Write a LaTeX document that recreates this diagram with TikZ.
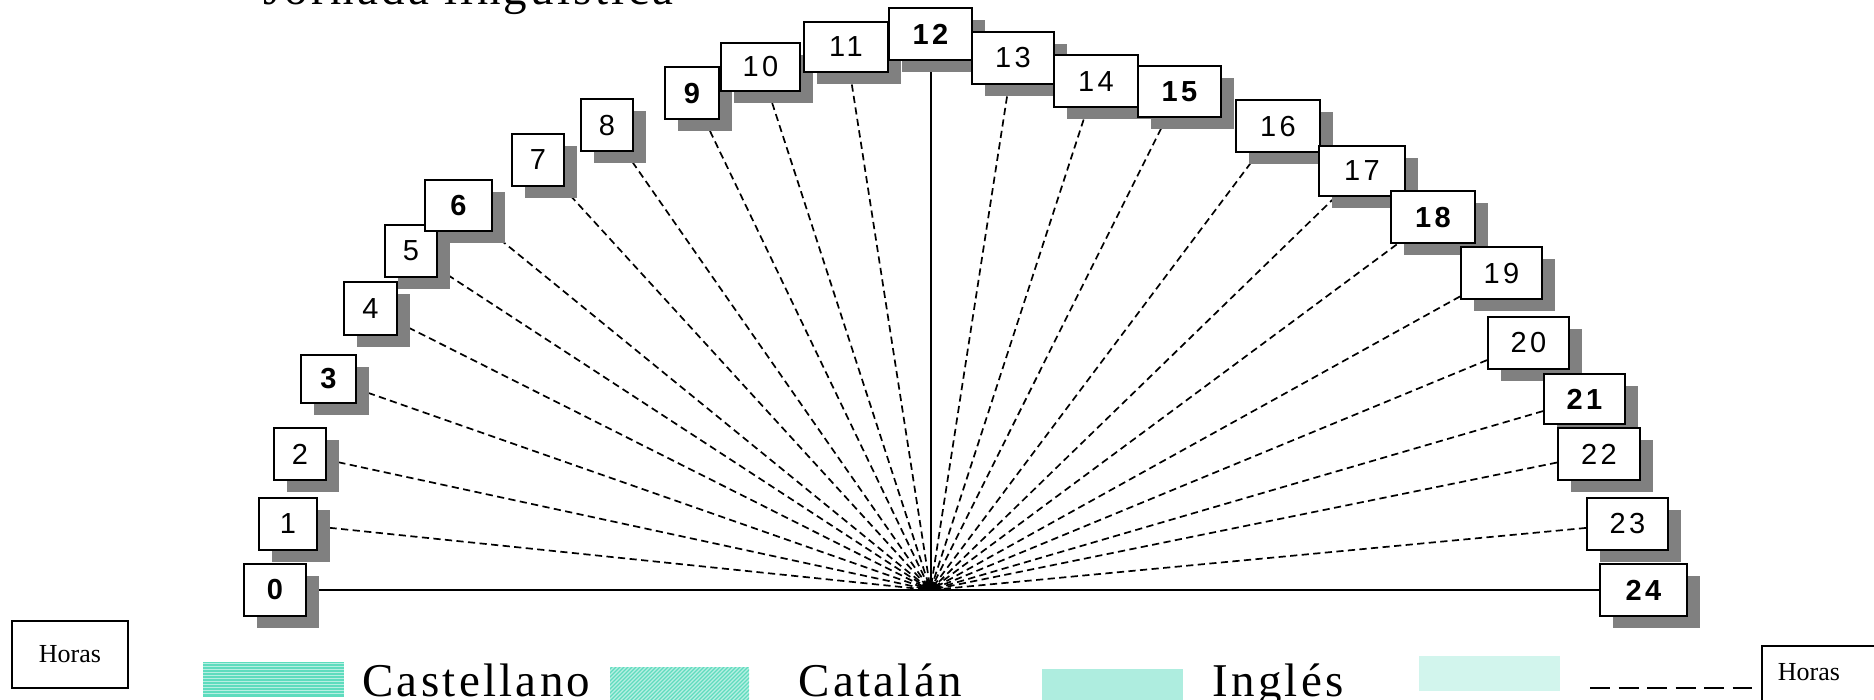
\documentclass[tikz,border=0pt]{standalone}
\usepackage{fontspec}
\usetikzlibrary{shadows}
\newfontfamily\numfont[LetterSpace=12]{Liberation Sans}
\newfontfamily\legfont[LetterSpace=7]{Liberation Serif}
\newfontfamily\horasfont{Liberation Serif}
\definecolor{shgray}{HTML}{808080}
\definecolor{tealA}{HTML}{5EDCBE}
\pgfdeclarelayer{bg}
\pgfsetlayers{bg,main}
\begin{document}
\begin{tikzpicture}[x=0.5pt,y=-0.5pt,
  hr/.style={draw, line width=1pt, fill=white, minimum height=26pt, minimum width=26pt, inner sep=0pt,
    font=\numfont\fontsize{14.5pt}{16pt}\selectfont,
    drop shadow={shadow xshift=6.5pt, shadow yshift=-6pt, fill=shgray, opacity=1}},
  two/.style={hr, minimum width=41.5pt},
  bnum/.style={font=\numfont\bfseries\fontsize{14.5pt}{16pt}\selectfont},
  dline/.style={line width=0.85pt, dash pattern=on 3.6pt off 2.2pt},
  sline/.style={line width=1pt},
  legtext/.style={anchor=base west, inner sep=0pt, font=\legfont\fontsize{23.5pt}{26pt}\selectfont},
  horas/.style={inner sep=0pt, font=\horasfont\fontsize{13pt}{15pt}\selectfont},
  hbox/.style={draw, line width=0.8pt, minimum width=58pt, minimum height=33.5pt, inner sep=0pt}
]
\useasboundingbox (0,0) rectangle (1874,700);

% title (cut at the top)
\node[legtext] (title) at (263,5) {Jornada lingüística};

% hub
\coordinate (hub) at (930.5,590);

% hour boxes
\node[hr, bnum, minimum width=31pt] (n0) at (275,590) {0};
\node[hr, minimum width=29pt] (n1) at (288,523.5) {1};
\node[hr] (n2) at (300,454) {2};
\node[hr, bnum, minimum width=27.5pt, minimum height=24pt] (n3) at (328.5,379) {3};
\node[hr, minimum width=26.5pt] (n4) at (370.5,308.5) {4};
\node[hr] (n5) at (411,251) {5};
\node[hr, bnum, minimum width=33.5pt, minimum height=25.5pt] (n6) at (458.5,205.5) {6};
\node[hr] (n7) at (538,160) {7};
\node[hr] (n8) at (607,125.5) {8};
\node[hr, bnum, minimum width=27pt] (n9) at (692,93.5) {9};
\node[two, minimum width=39.5pt, minimum height=24pt] (n10) at (760.5,67) {10};
\node[two, minimum width=42pt, minimum height=25pt] (n11) at (846,47) {11};
\node[two, bnum] (n12) at (930.5,34.5) {12};
\node[two, minimum width=41pt] (n13) at (1013,58) {13};
\node[two, minimum width=42pt] (n14) at (1096,81.5) {14};
\node[two, bnum, minimum height=25.5pt] (n15) at (1179.5,91.5) {15};
\node[two, minimum width=42pt] (n16) at (1278,126.5) {16};
\node[two, minimum width=43pt, minimum height=25pt] (n17) at (1362,171) {17};
\node[two, bnum, minimum width=42pt] (n18) at (1433,217.5) {18};
\node[two, minimum width=40.5pt] (n19) at (1501.5,273.5) {19};
\node[two, minimum width=40.5pt] (n20) at (1528.5,343) {20};
\node[two, bnum, minimum width=40.5pt, minimum height=25pt] (n21) at (1584.5,399) {21};
\node[two, minimum width=41pt] (n22) at (1599,454) {22};
\node[two, minimum width=40.5pt] (n23) at (1627.5,524) {23};
\node[two, bnum, minimum width=43.5pt] (n24) at (1643.5,590) {24};

% connectors behind the boxes
\begin{pgfonlayer}{bg}
  \draw[sline] (n0) -- (n24);
  \draw[sline] (hub) -- (n12);
  \foreach \k in {1,...,11,13,14,...,23}{
    \draw[dline] (n\k) -- (hub);
  }
\end{pgfonlayer}
\fill ([xshift=-4.5pt]hub) arc[start angle=180, end angle=0, radius=4.5pt] -- cycle;

% legend
\node[hbox, horas] (horasL) at (70,654.5) {Horas};

\fill[tealA] (203,662) rectangle (344,697);
\foreach \y in {663.5,666.5,...,696}{
  \draw[white!55!tealA, line width=0.5pt] (203,\y) -- (344,\y);
}
\node[legtext] (cast) at (362,696) {Castellano};

\begin{scope}
  \clip (610,667) rectangle (749,705);
  \fill[tealA!45!white] (610,667) rectangle (749,705);
  \foreach \i in {0,...,48}{
    \draw[tealA, line width=0.6pt] (570+\i*4,705) -- ++(40,-40);
  }
\end{scope}
\node[legtext] (cat) at (798,696) {Catalán};

\fill[tealA!50!white] (1042,669) rectangle (1183,705);
\node[legtext] (ing) at (1212,696) {Inglés};

\fill[tealA!28!white] (1419,656) rectangle (1560,691);

\draw[line width=1.2pt, dash pattern=on 10pt off 4.25pt] (1590,688) -- (1752,688);

\node[hbox, anchor=north west, minimum height=40pt] (horasR) at (1761,645) {};
\node[horas] (horasRt) at (1809,672) {Horas};
\end{tikzpicture}
\end{document}
